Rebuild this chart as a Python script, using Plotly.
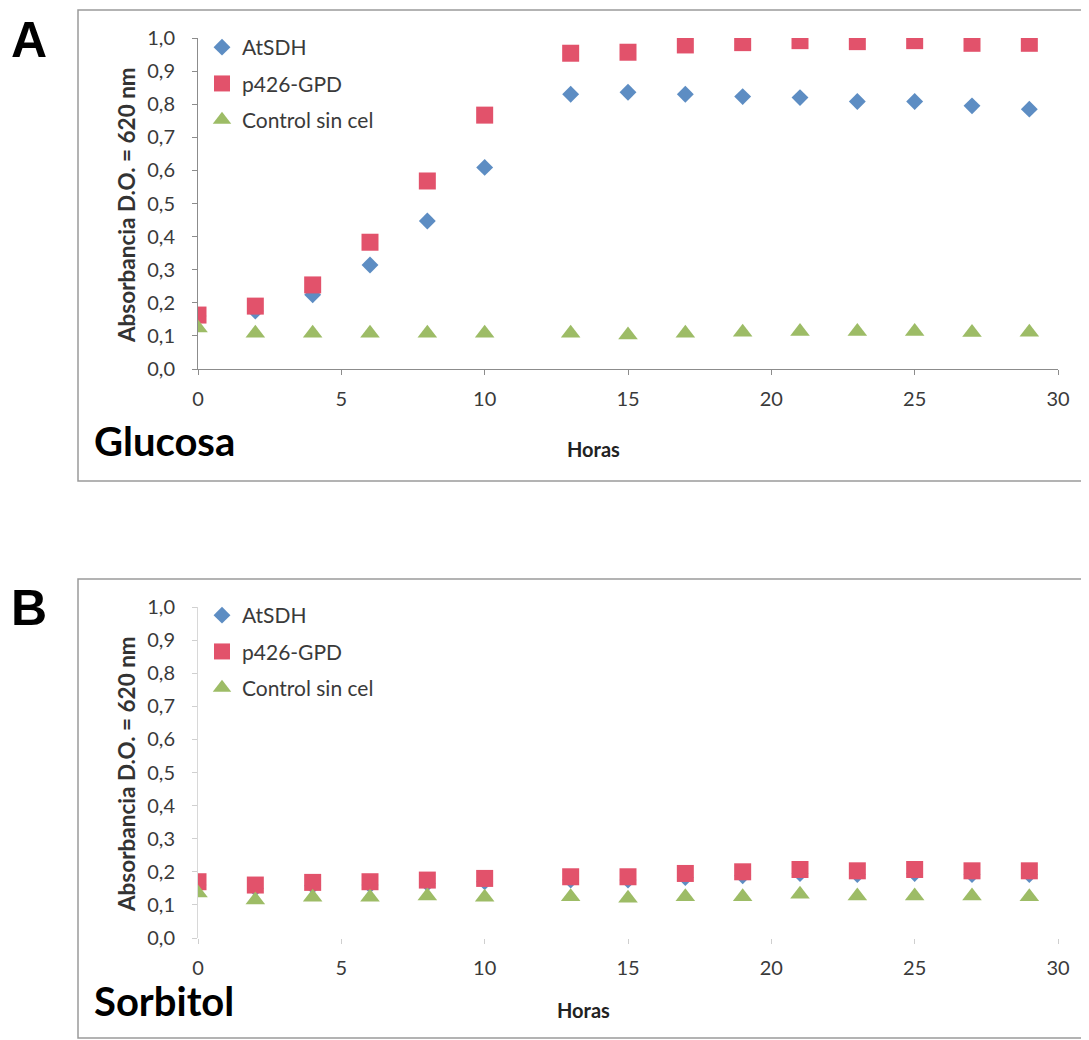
import plotly.graph_objects as go

# ---------------- data ----------------
horas = [0, 2, 4, 6, 8, 10, 13, 15, 17, 19, 21, 23, 25, 27, 29]

# Panel A - Glucosa
glu_atsdh = [0.16, 0.175, 0.224, 0.314, 0.447, 0.609, 0.830, 0.836, 0.830, 0.823, 0.820, 0.808, 0.808, 0.795, 0.785]
glu_p426 = [0.163, 0.190, 0.254, 0.383, 0.568, 0.767, 0.954, 0.957, 0.979, 0.986, 0.992, 0.989, 0.992, 0.984, 0.984]
glu_ctrl = [0.124, 0.108, 0.108, 0.108, 0.108, 0.108, 0.108, 0.103, 0.108, 0.111, 0.113, 0.113, 0.113, 0.110, 0.111]

# Panel B - Sorbitol
sor_atsdh = [0.160, 0.150, 0.158, 0.160, 0.165, 0.170, 0.175, 0.175, 0.183, 0.188, 0.195, 0.192, 0.195, 0.192, 0.192]
sor_p426 = [0.170, 0.160, 0.168, 0.170, 0.175, 0.180, 0.185, 0.185, 0.195, 0.200, 0.207, 0.203, 0.207, 0.203, 0.203]
sor_ctrl = [0.136, 0.115, 0.123, 0.123, 0.127, 0.123, 0.125, 0.120, 0.125, 0.125, 0.132, 0.127, 0.127, 0.127, 0.125]

series_names = ["AtSDH", "p426-GPD", "Control sin cel"]
x_ticks = [0, 5, 10, 15, 20, 25, 30]
y_ticks = [0.0, 0.1, 0.2, 0.3, 0.4, 0.5, 0.6, 0.7, 0.8, 0.9, 1.0]

# ---------------- style ----------------
# the page body has an 8px margin, so the figure is drawn 8px in from the window corner
OFF = 8
W, H = 1089 - OFF, 1040 - OFF
C_BLUE = "#5D8DC3"
C_RED = "#E2526B"
C_GREEN = "#9DBC66"
FONT = "Lato, 'Open Sans', sans-serif"
TXT = "#3A3A3A"

def px(x):
    return (x - OFF) / W

def py(y):
    return 1 - (y - OFF) / H

fig = go.Figure()

panels = [
    ("x", "y", "legend", glu_atsdh, glu_p426, glu_ctrl),
    ("x2", "y2", "legend2", sor_atsdh, sor_p426, sor_ctrl),
]
for xa, ya, lg, a, p, c in panels:
    fig.add_trace(go.Scatter(x=horas, y=a, mode="markers", name=series_names[0],
                             xaxis=xa, yaxis=ya, legend=lg, legendgroup=lg + "a",
                             marker=dict(symbol="diamond", size=13, color=C_BLUE)))
    fig.add_trace(go.Scatter(x=horas, y=p, mode="markers", name=series_names[1],
                             xaxis=xa, yaxis=ya, legend=lg, legendgroup=lg + "b",
                             marker=dict(symbol="square", size=17, color=C_RED)))
    fig.add_trace(go.Scatter(x=horas, y=c, mode="markers", name=series_names[2],
                             xaxis=xa, yaxis=ya, legend=lg, legendgroup=lg + "c",
                             marker=dict(symbol="triangle-up", size=17, color=C_GREEN)))

xdom = [px(198), px(1058)]
common_x = dict(range=[0, 30], tickvals=x_ticks, ticks="outside", ticklen=5,
                tickfont=dict(family=FONT, size=20, color=TXT), showgrid=False,
                zeroline=False, ticklabelstandoff=7, fixedrange=True, automargin=False)
common_y = dict(range=[0, 1.0], tickvals=y_ticks, tickformat=".1f", ticks="outside",
                ticklen=5, tickfont=dict(family=FONT, size=20, color=TXT), showgrid=False,
                zeroline=False, ticklabelstandoff=13, fixedrange=True, automargin=False)

fig.update_layout(
    width=W, height=H, autosize=False,
    margin=dict(l=0, r=0, t=0, b=0, pad=0, autoexpand=False),
    paper_bgcolor="white", plot_bgcolor="rgba(0,0,0,0)",
    separators=",.",
    xaxis=dict(domain=xdom, anchor="y", showline=True, linecolor="#8C8C8C",
               tickcolor="#8C8C8C", **common_x),
    yaxis=dict(domain=[py(369), py(38)], anchor="x", showline=True, linecolor="#8C8C8C",
               tickcolor="#8C8C8C", **common_y),
    xaxis2=dict(domain=xdom, anchor="y2", showline=False, tickcolor="#CFCFCF", **common_x),
    yaxis2=dict(domain=[py(938), py(607)], anchor="x2", showline=True, linecolor="#D8D8D8",
                tickcolor="#D0D0D0", **common_y),
    legend=dict(x=px(202), y=py(27), xanchor="left", yanchor="top",
                font=dict(family=FONT, size=21, color=TXT), bgcolor="rgba(0,0,0,0)",
                traceorder="grouped", tracegroupgap=6, itemsizing="trace"),
    legend2=dict(x=px(202), y=py(595), xanchor="left", yanchor="top",
                 font=dict(family=FONT, size=21, color=TXT), bgcolor="rgba(0,0,0,0)",
                 traceorder="grouped", tracegroupgap=6, itemsizing="trace"),
    showlegend=True,
)

# panel borders
for top, bot in [(10, 481), (579, 1038)]:
    fig.add_shape(type="rect", xref="paper", yref="paper",
                  x0=px(78), x1=px(1100), y0=py(bot), y1=py(top),
                  line=dict(color="#9A9A9A", width=1.5), fillcolor="rgba(0,0,0,0)", layer="below")

ann = []
for letter, yc in [("A", 40), ("B", 608)]:
    ann.append(dict(text="<b>" + letter + "</b>", x=px(29), y=py(yc), xref="paper", yref="paper",
                    showarrow=False, xanchor="center", yanchor="middle",
                    font=dict(family="Liberation Sans, Arial", size=50, color="black")))
for label, yc in [("Glucosa", 441), ("Sorbitol", 1001)]:
    ann.append(dict(text="<b>" + label + "</b>", x=px(92), y=py(yc), xref="paper", yref="paper",
                    showarrow=False, xanchor="left", yanchor="middle",
                    font=dict(family=FONT, size=40, color="black")))
for xc, yc in [(593, 449), (583, 1010)]:
    ann.append(dict(text="<b>Horas</b>", x=px(xc), y=py(yc), xref="paper", yref="paper",
                    showarrow=False, xanchor="center", yanchor="middle",
                    font=dict(family=FONT, size=20, color="#222222")))
for yc in [205, 774]:
    ann.append(dict(text="<b>Absorbancia D.O. = 620 nm</b>", x=px(126), y=py(yc),
                    xref="paper", yref="paper", showarrow=False, textangle=-90,
                    xanchor="center", yanchor="middle",
                    font=dict(family=FONT, size=22.5, color="#333333")))
fig.update_layout(annotations=ann)

fig.write_html("out.html")
